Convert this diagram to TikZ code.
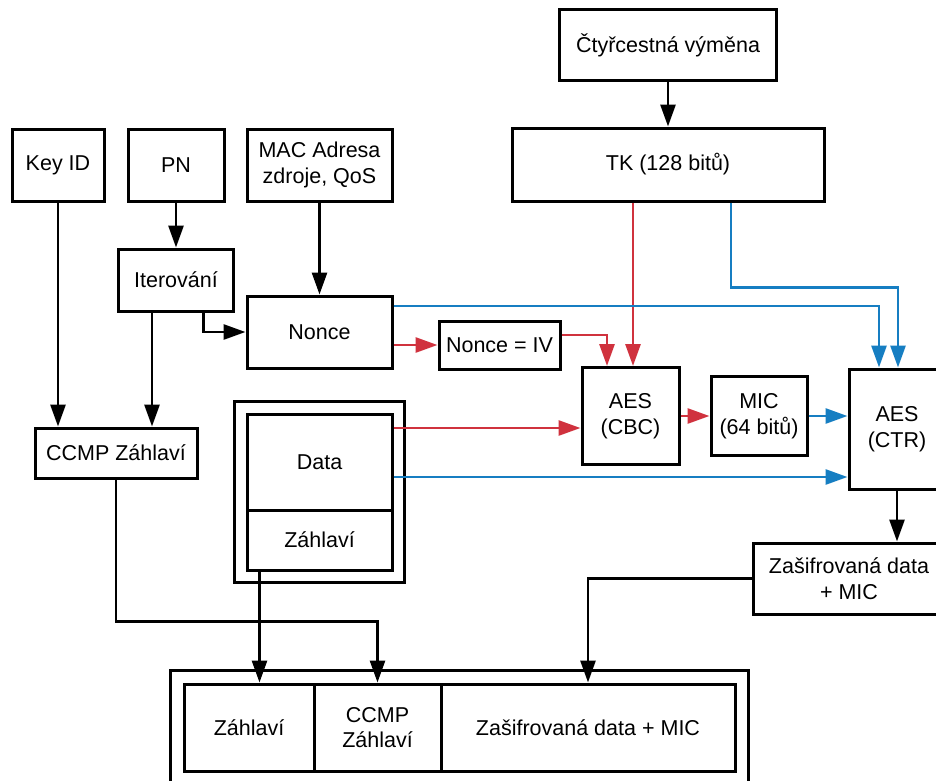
\documentclass[tikz,border=0pt]{standalone}
\usepackage{fontspec}
\setmainfont{Liberation Sans}
\usetikzlibrary{arrows.meta,fit,calc}
\definecolor{cred}{RGB}{208,50,62}
\definecolor{cblue}{RGB}{22,126,194}
\tikzset{
  box/.style={draw=black, line width=3pt, fill=white, align=center, inner sep=2pt,
    font=\fontsize{21.5}{25.8}\selectfont},
  frame/.style={draw=black, line width=3pt},
  conn/.style={line width=2.8pt, -{Triangle[length=22pt,width=15pt]}},
  arrk/.style={conn, draw=black},
  arrr/.style={conn, draw=cred},
  arrb/.style={conn, draw=cblue},
}
\begin{document}
\begin{tikzpicture}[x=1pt,y=-1pt]
\useasboundingbox (0,0) rectangle (936,780);
\clip (0,0) rectangle (936,780);
\fill[white] (0,0) rectangle (936,780);

% nodes
\node[box, minimum width=217, minimum height=71] (four) at (668,45) {Čtyřcestná výměna};
\node[box, minimum width=312, minimum height=73] (tk) at (668,164.5) {TK (128 bitů)};
\node[box, minimum width=92, minimum height=72] (keyid) at (58,165) {Key ID};
\node[box, minimum width=96, minimum height=72] (pn) at (176,165) {PN};
\node[box, minimum width=145, minimum height=72] (mac) at (319.5,165) {MAC Adresa\\zdroje, QoS};
\node[box, minimum width=115, minimum height=62] (iter) at (176,280) {Iterování};
\node[box, minimum width=145, minimum height=72] (nonce) at (319.5,332) {Nonce};
\node[box, minimum width=121, minimum height=48] (iv) at (499.5,345) {Nonce = IV};
\node[box, minimum width=97, minimum height=97] (cbc) at (630.5,416) {AES\\(CBC)};
\node[box, minimum width=96, minimum height=79] (mic) at (759,416) {MIC\\(64 bitů)};
\node[box, minimum width=96, minimum height=120] (ctr) at (897,429) {AES\\(CTR)};
\node[box, minimum width=162, minimum height=50] (ccmp) at (116,453) {CCMP Záhlaví};
\node[box, minimum width=145, minimum height=96] (data) at (319.5,462) {Data};
\node[box, minimum width=145, minimum height=60] (zahl) at (319.5,540) {Záhlaví};
\node[frame, fit=(data)(zahl), inner sep=11pt] (datagrp) {};
\node[box, minimum width=192, minimum height=71] (enc) at (849,578.5) {Zašifrovaná data\\+ MIC};
\node[box, minimum width=130, minimum height=87] (b1) at (249,727.5) {Záhlaví};
\node[box, minimum width=127, minimum height=87] (b2) at (377.5,727.5) {CCMP\\Záhlaví};
\node[box, minimum width=294, minimum height=87] (b3) at (588,727.5) {Zašifrovaná data + MIC};
\node[frame, fit=(b1)(b3), inner sep=12pt] (bottomgrp) {};

% named connector start points
\coordinate (dataR) at ([yshift=34pt]data.east);
\coordinate (dataB) at ([yshift=-15pt]data.east);

% black connectors
\draw[arrk] (four.south) -- (four.south |- tk.north);
\draw[arrk] (keyid.south) -- (keyid.south |- ccmp.north);
\draw[arrk] (pn.south) -- (pn.south |- iter.north);
\draw[arrk] (mac.south) -- (mac.south |- nonce.north);
\draw[arrk] ([xshift=27.5pt]iter.south) |- (nonce.west);
\draw[arrk] ([xshift=-24pt]iter.south) -- ([xshift=-24pt]iter.south |- ccmp.north);
\draw[arrk] (ctr.south) -- (ctr.south |- enc.north);
\draw[arrk] (enc.west) -| (b3.north);
\draw[arrk] (ccmp.south) -- ++(0,142) -| (b2.north);
\draw[arrk] ([xshift=-60pt]zahl.south) -- ([xshift=-60pt]zahl.south |- b1.north);

% red connectors
\draw[arrr] ([xshift=-35pt]tk.south) -- ([xshift=-35pt]tk.south |- cbc.north);
\draw[arrr] (nonce.east |- iv.west) -- (iv.west);
\draw[arrr] ([yshift=10pt]iv.east) -| ([xshift=-23.5pt]cbc.north);
\draw[arrr] (dataR) -- (cbc.west |- dataR);
\draw[arrr] (cbc.east) -- (mic.west);

% blue connectors
\draw[arrb] ([xshift=63pt]tk.south) -- ++(0,85) -| ([xshift=1pt]ctr.north);
\draw[arrb] ([yshift=26pt]nonce.east) -| ([xshift=-18pt]ctr.north);
\draw[arrb] (mic.east) -- (mic.east -| ctr.west);
\draw[arrb] (dataB) -- (ctr.west |- dataB);
\end{tikzpicture}
\end{document}
